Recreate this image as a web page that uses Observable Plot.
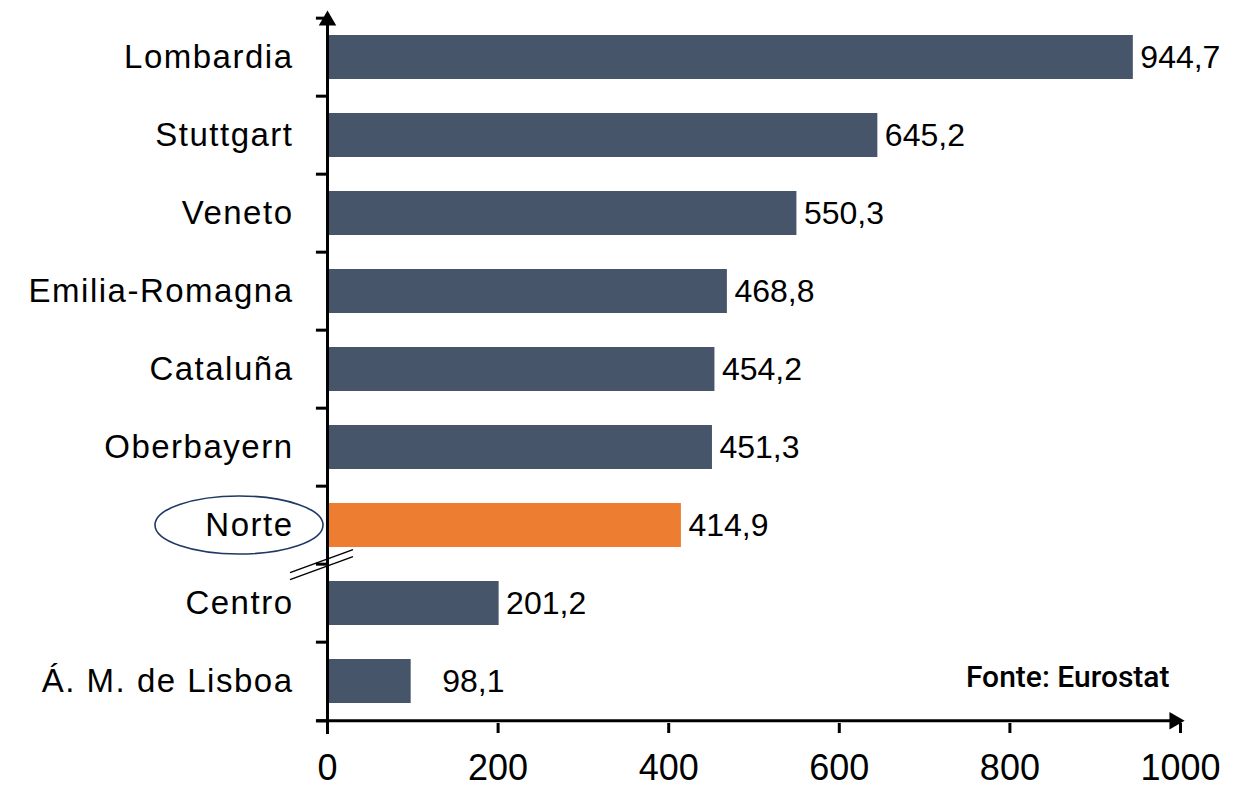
<!DOCTYPE html>
<html>
<head>
<meta charset="utf-8">
<script src="https://cdn.jsdelivr.net/npm/d3@7"></script>
<script src="https://cdn.jsdelivr.net/npm/@observablehq/plot@0.6"></script>
<style>
  html, body { margin: 0; padding: 0; background: white; }
  #chart { width: 1236px; height: 787px; }
</style>
</head>
<body>
<div id="chart"></div>
<script>
const categories = ["Lombardia", "Stuttgart", "Veneto", "Emilia-Romagna", "Cataluña", "Oberbayern", "Norte", "Centro", "Á. M. de Lisboa"];
const values = [944.7, 645.2, 550.3, 468.8, 454.2, 451.3, 414.9, 201.2, 98.1];
const valueLabels = ["944,7", "645,2", "550,3", "468,8", "454,2", "451,3", "414,9", "201,2", "98,1"];
const highlight = "Norte";
const xTicks = [0, 200, 400, 600, 800, 1000];
const source = "Fonte: Eurostat";

const data = categories.map((c, i) => ({cat: c, value: values[i], label: valueLabels[i]}));

const W = 1236, H = 787, mT = 15, mB = 64, mL = 327, mR = 56;
const step = (H - mT - mB) / categories.length;
const last = categories[categories.length - 1];

const plot = Plot.plot({
  width: W, height: H,
  marginLeft: mL, marginRight: mR, marginTop: mT, marginBottom: mB,
  x: {domain: [0, 1000], axis: null},
  y: {domain: categories, paddingInner: 0.43, paddingOuter: 0.215, axis: null},
  style: {fontFamily: "'Liberation Sans', Arial, sans-serif", background: "white", color: "black"},
  marks: [
    Plot.barX(data.filter(d => d.cat !== highlight), {x: "value", y: "cat", fill: "#465569"}),
    Plot.barX(data.filter(d => d.cat === highlight), {x: "value", y: "cat", fill: "#ED7D31"}),
    // y axis line
    Plot.ruleX([0], {stroke: "black", strokeWidth: 3, insetTop: -1, insetBottom: -11}),
    Plot.dot([0], {x: d => d, frameAnchor: "top", dy: 5, symbol: "triangle", r: 6.5, fill: "black", stroke: "none"}),
    // y ticks at band boundaries
    Plot.ruleY(categories, {y: d => d, x1: -13, x2: 0, dy: -step / 2, stroke: "black", strokeWidth: 3}),
    Plot.ruleY([last], {y: d => d, x1: -13, x2: 0, dy: step / 2, stroke: "black", strokeWidth: 3}),
    // x axis line
    Plot.link([last], {x1: -13, x2: 993, y1: d => d, y2: d => d, dy: step / 2, stroke: "black", strokeWidth: 3}),
    Plot.dot([last], {x: 1000, y: d => d, dy: step / 2, dx: -6, symbol: "triangle", rotate: 90, r: 6.5, fill: "black", stroke: "none"}),
    // x ticks
    Plot.ruleX(xTicks, {x: d => d, insetTop: H - mT - mB, insetBottom: -10, stroke: "black", strokeWidth: 3}),
    Plot.text(xTicks, {x: d => d, frameAnchor: "bottom", dy: 56, text: d => String(d), fontSize: 36, fill: "black"}),
    // category labels
    Plot.text(data, {x: 0, y: "cat", text: "cat", textAnchor: "end", dx: -34, fontSize: 33, fill: "black"}),
    // value labels
    Plot.text(data.filter(d => d.value >= 150), {x: "value", y: "cat", text: "label", textAnchor: "start", dx: 7, fontSize: 32, fill: "black"}),
    Plot.text(data.filter(d => d.value < 150), {x: "value", y: "cat", text: "label", textAnchor: "start", dx: 31, fontSize: 32, fill: "black"}),
    // source
    Plot.text([source], {x: 1000, y: () => last, text: d => d, textAnchor: "end", dx: -11, dy: -4, fontSize: 30, fontWeight: 500, fontFamily: "Roboto, 'DejaVu Sans', sans-serif", fill: "black"})
  ]
});

document.getElementById("chart").appendChild(plot);

const svg = d3.select(plot);
svg.selectAll('g[font-size="33"]').attr("letter-spacing", "1.5px");

// Decorations positioned from the plot's scales
const xs = plot.scale("x"), ys = plot.scale("y");
const x0 = xs.apply(0);
const bw = ys.bandwidth;
const yNorte = ys.apply(highlight) + bw / 2;
svg.append("ellipse")
  .attr("cx", x0 - 88).attr("cy", yNorte)
  .attr("rx", 84).attr("ry", 29)
  .attr("fill", "none").attr("stroke", "#1F3864").attr("stroke-width", 1.6);

// axis break marks between Norte and Centro
const yb = ys.apply(categories[categories.indexOf(highlight) + 1]) - (step - bw) / 2;
[[9, -14], [16, -7]].forEach(([a, b]) => {
  svg.append("line")
    .attr("x1", x0 - 37).attr("y1", yb + a)
    .attr("x2", x0 + 26).attr("y2", yb + b)
    .attr("stroke", "black").attr("stroke-width", 1.5);
});
</script>
</body>
</html>
